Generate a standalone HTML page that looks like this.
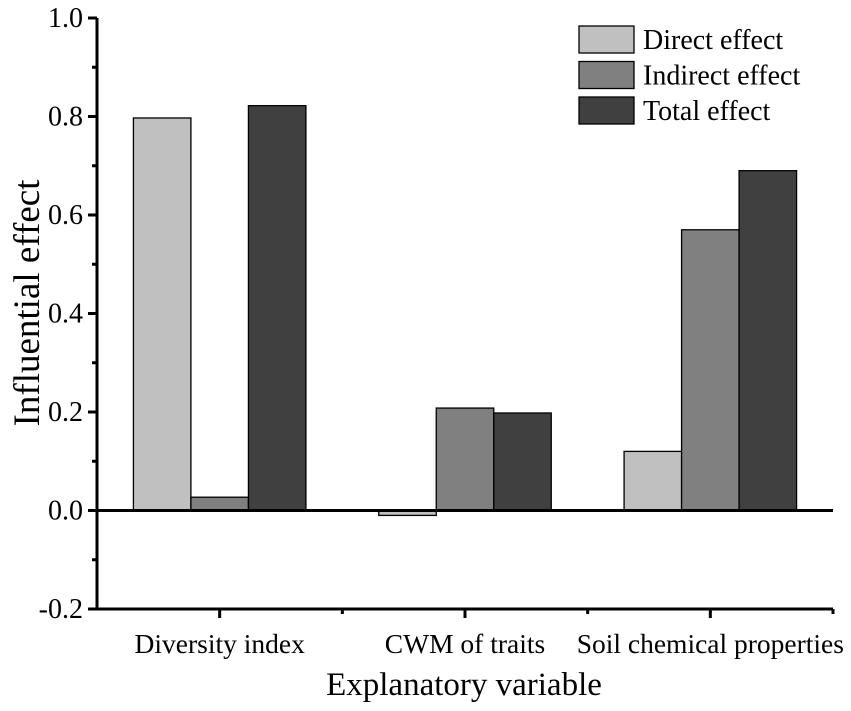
<!DOCTYPE html>
<html><head><meta charset="utf-8"><style>
body{margin:0;background:#fff;}
svg text{font-family:"Liberation Serif",serif;fill:#000;}
</style></head><body>
<svg id="chart" width="851" height="706" xmlns="http://www.w3.org/2000/svg"></svg>
<script>
const categories=["Diversity index","CWM of traits","Soil chemical properties"];
const directValues=[0.797,-0.01,0.12];
const indirectValues=[0.027,0.208,0.57];
const totalValues=[0.822,0.198,0.69];
const yTicks=[-0.2,0,0.2,0.4,0.6,0.8,1.0];
const yTickLabels=["-0.2","0.0","0.2","0.4","0.6","0.8","1.0"];
const seriesNames=["Direct effect","Indirect effect","Total effect"];
const seriesColors=["#c0c0c0","#808080","#404040"];

const svg=document.getElementById('chart');
const NS="http://www.w3.org/2000/svg";
const X0=97,X1=833,YTOP=18,YBOT=609;
const yMin=-0.2,yMax=1.0;
function y(v){return YBOT-(v-yMin)/(yMax-yMin)*(YBOT-YTOP);}
const groupW=(X1-X0)/categories.length;
function xc(i){return X0+groupW*(i+0.5);}
const barW=57.5;
function mk(t,a,txt){const e=document.createElementNS(NS,t);for(const k in a)e.setAttribute(k,a[k]);if(txt!==undefined)e.textContent=txt;svg.appendChild(e);return e;}

const series=[directValues,indirectValues,totalValues];
series.forEach((vals,s)=>{
  vals.forEach((v,i)=>{
    const x=xc(i)+(s-1.5)*barW;
    const top=Math.min(y(v),y(0)),h=Math.abs(y(v)-y(0));
    const r=mk('rect',{x:x,y:top,width:barW,height:Math.max(h,1),fill:seriesColors[s],stroke:'#000','stroke-width':1.3});
    
    
  });
});
let zl=mk('line',{x1:X0,x2:X1,y1:y(0),y2:y(0),stroke:'#000','stroke-width':3});


let ya=mk('line',{x1:X0,x2:X0,y1:YTOP,y2:YBOT+1.5,stroke:'#000','stroke-width':3});


let xa=mk('line',{x1:X0-1.5,x2:X1,y1:YBOT,y2:YBOT,stroke:'#000','stroke-width':3});


yTicks.forEach((v,i)=>{
  mk('line',{x1:X0-9,x2:X0,y1:y(v),y2:y(v),stroke:'#000','stroke-width':3});
  const t=mk('text',{x:X0-14,y:y(v)+9,'text-anchor':'end','font-size':28},yTickLabels[i]);
  
  
  if(i<yTicks.length-1){mk('line',{x1:X0-5,x2:X0,y1:y(v+0.1),y2:y(v+0.1),stroke:'#000','stroke-width':3});}
});
for(let i=0;i<=categories.length*2;i++){
  const x=X0+groupW/2*i;
  if(i>0) mk('line',{x1:x,x2:x,y1:YBOT,y2:YBOT+(i%2?9:5),stroke:'#000','stroke-width':3});
}
categories.forEach((c,i)=>{
  const t=mk('text',{x:xc(i),y:653,'text-anchor':'middle','font-size':27.5},c);
  
  
});
let xt=mk('text',{x:464,y:695,'text-anchor':'middle','font-size':33},'Explanatory variable');


let yt=mk('text',{x:0,y:0,'text-anchor':'middle','font-size':37,transform:'translate(39,303) rotate(-90)'},'Influential effect');


seriesNames.forEach((n,s)=>{
  const yy=26+s*35.5;
  const r=mk('rect',{x:579,y:yy,width:55,height:27,fill:seriesColors[s],stroke:'#000','stroke-width':1.3});
  
  
  const t=mk('text',{x:643,y:yy+23,'font-size':28},n);
  
  
});
</script>
</body></html>
